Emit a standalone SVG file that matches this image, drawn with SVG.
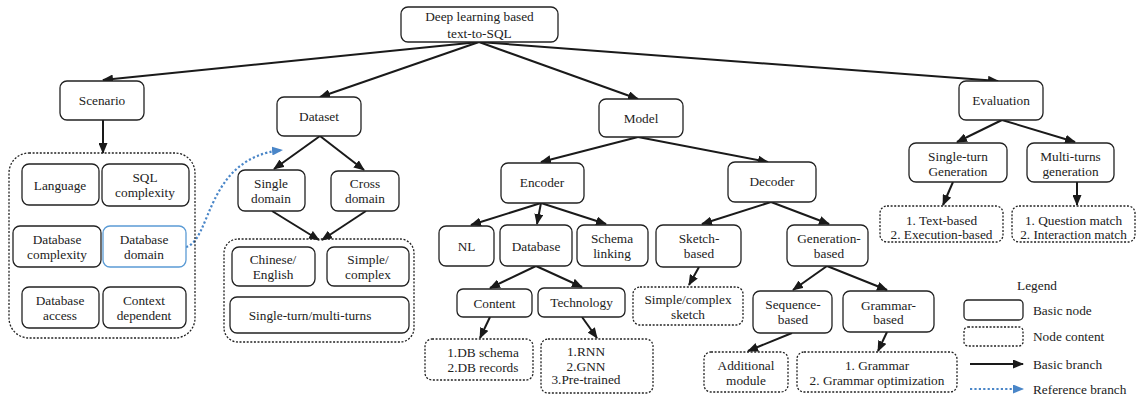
<svg xmlns="http://www.w3.org/2000/svg" width="1143" height="400" viewBox="0 0 1143 400" font-family="'Liberation Serif', 'Times New Roman', serif">
<style>
text{font-family:"Liberation Serif","Times New Roman","DejaVu Serif",serif;font-size:13.3px;fill:#222;text-anchor:middle}
.n{fill:#fff;stroke:#222;stroke-width:1.3}
.c{fill:none;stroke:#222;stroke-width:1.3;stroke-dasharray:2 1.6}
.b{fill:#fff;stroke:#5b9bd5;stroke-width:1.3}
.a{fill:none;stroke:#1a1a1a;stroke-width:2;marker-end:url(#ah)}
.r{fill:none;stroke:#4a86c8;stroke-width:2.2;stroke-dasharray:2.2 2.2;marker-end:url(#bh)}
.l{text-anchor:start}
</style>
<defs>
<marker id="ah" markerUnits="userSpaceOnUse" markerWidth="11" markerHeight="9" refX="10" refY="4.5" orient="auto"><path d="M0,0 L11,4.5 L0,9 z" fill="#1a1a1a"/></marker>
<marker id="bh" markerUnits="userSpaceOnUse" markerWidth="11" markerHeight="9" refX="10" refY="4.5" orient="auto"><path d="M0,0 L11,4.5 L0,9 z" fill="#4a86c8"/></marker>
</defs>
<rect width="1143" height="400" fill="#fff"/>

<g id="connectors">
<path class="a" d="M479,42 L103,80"/>
<path class="a" d="M479,42 L320,97"/>
<path class="a" d="M479,42 L638,99"/>
<path class="a" d="M479,42 L998,81"/>
<path class="a" d="M103,120 L103,153"/>
<path class="a" d="M320,136 L274,169"/>
<path class="a" d="M320,136 L364,170"/>
<path class="a" d="M272,211 L319,240"/>
<path class="a" d="M366,211 L322,240"/>
<path class="a" d="M638,137 L541,162"/>
<path class="a" d="M638,137 L768,162"/>
<path class="a" d="M541,203 L471,225"/>
<path class="a" d="M541,203 L537,224"/>
<path class="a" d="M541,203 L606,224"/>
<path class="a" d="M536,266 L490,288"/>
<path class="a" d="M536,266 L582,287"/>
<path class="a" d="M490,317 L480,338"/>
<path class="a" d="M582,317 L597,338"/>
<path class="a" d="M771,202 L702,224"/>
<path class="a" d="M771,202 L829,224"/>
<path class="a" d="M699,267 L689,285"/>
<path class="a" d="M827,266 L793,290"/>
<path class="a" d="M827,266 L887,290"/>
<path class="a" d="M792,333 L748,351"/>
<path class="a" d="M887,332 L878,351"/>
<path class="a" d="M1002,120 L957,142"/>
<path class="a" d="M1002,120 L1075,142"/>
<path class="a" d="M953,182 L943,205"/>
<path class="a" d="M1077,182 L1077,205"/>
<path class="r" d="M186,247 C212,240 205,158 282,150"/>
</g>

<g id="root"><rect class="n" x="401" y="7" width="157" height="35" rx="7"/><text x="479.5" y="20.5">Deep learning based</text><text x="479.5" y="37.5">text-to-SQL</text></g>
<g id="scenario"><rect class="n" x="60" y="81" width="84" height="39" rx="7"/><text x="102" y="104.5">Scenario</text></g>
<g id="dataset"><rect class="n" x="277" y="97" width="84" height="39" rx="7"/><text x="319" y="121">Dataset</text></g>
<g id="model"><rect class="n" x="599" y="99" width="84" height="38" rx="7"/><text x="641" y="123">Model</text></g>
<g id="evaluation"><rect class="n" x="959" y="81" width="84" height="39" rx="7"/><text x="1001" y="105">Evaluation</text></g>

<g id="scenario-content">
<rect class="c" x="9" y="153" width="186" height="185" rx="20"/>
<g id="language"><rect class="n" x="22" y="164" width="77" height="41" rx="7"/><text x="60" y="189.5">Language</text></g>
<g id="sql-complexity"><rect class="n" x="102" y="164" width="87" height="42" rx="7"/><text x="145" y="182">SQL</text><text x="145" y="197">complexity</text></g>
<g id="database-complexity"><rect class="n" x="13" y="226" width="88" height="41" rx="7"/><text x="57" y="243.5">Database</text><text x="57" y="258.5">complexity</text></g>
<g id="database-domain"><rect class="b" x="103" y="226" width="83" height="41" rx="7"/><text x="144" y="243.5">Database</text><text x="144" y="258.5">domain</text></g>
<g id="database-access"><rect class="n" x="22" y="287" width="77" height="41" rx="7"/><text x="60" y="304.5">Database</text><text x="60" y="319.5">access</text></g>
<g id="context-dependent"><rect class="n" x="103" y="287" width="83" height="41" rx="7"/><text x="144" y="304.5">Context</text><text x="144" y="319.5">dependent</text></g>
</g>

<g id="single-domain"><rect class="n" x="238" y="170" width="67" height="41" rx="7"/><text x="271" y="188">Single</text><text x="271" y="202.5">domain</text></g>
<g id="cross-domain"><rect class="n" x="331" y="171" width="68" height="40" rx="7"/><text x="365" y="188">Cross</text><text x="365" y="202.5">domain</text></g>

<g id="dataset-content">
<rect class="c" x="224" y="239" width="190" height="103" rx="14"/>
<g id="chinese-english"><rect class="n" x="232" y="247" width="83" height="39" rx="7"/><text x="273" y="263.5">Chinese/</text><text x="273" y="278.5">English</text></g>
<g id="simple-complex"><rect class="n" x="327" y="247" width="82" height="39" rx="7"/><text x="368" y="263.5">Simple/</text><text x="368" y="278.5">complex</text></g>
<g id="single-multi"><rect class="n" x="230" y="297" width="179" height="36" rx="7"/><text x="310" y="320">Single-turn/multi-turns</text></g>
</g>

<g id="encoder"><rect class="n" x="501" y="163" width="83" height="40" rx="7"/><text x="542" y="187">Encoder</text></g>
<g id="decoder"><rect class="n" x="728" y="162" width="88" height="40" rx="7"/><text x="772" y="186">Decoder</text></g>
<g id="nl"><rect class="n" x="439" y="226" width="55" height="40" rx="7"/><text x="466.5" y="251">NL</text></g>
<g id="database"><rect class="n" x="500" y="225" width="72" height="41" rx="7"/><text x="536" y="251">Database</text></g>
<g id="schema-linking"><rect class="n" x="577" y="225" width="71" height="41" rx="7"/><text x="612" y="243">Schema</text><text x="612" y="258">linking</text></g>
<g id="content"><rect class="n" x="457" y="289" width="75" height="28" rx="6"/><text x="494.5" y="307.5">Content</text></g>
<g id="technology"><rect class="n" x="538" y="288" width="87" height="29" rx="6"/><text x="581.5" y="307">Technology</text></g>
<g id="db-content"><rect class="c" x="425" y="339" width="108" height="41" rx="7"/><text x="483" y="357">1.DB schema</text><text x="483" y="372">2.DB records</text></g>
<g id="tech-content"><rect class="c" x="541" y="339" width="112" height="54" rx="7"/><text x="586" y="355.5">1.RNN</text><text x="586" y="370.5">2.GNN</text><text x="586" y="384">3.Pre-trained</text></g>

<g id="sketch-based"><rect class="n" x="656" y="225" width="85" height="42" rx="7"/><text x="699" y="243">Sketch-</text><text x="699" y="258">based</text></g>
<g id="generation-based"><rect class="n" x="787" y="225" width="81" height="41" rx="7"/><text x="829" y="243">Generation-</text><text x="829" y="258">based</text></g>
<g id="sketch-content"><rect class="c" x="633" y="287" width="110" height="38" rx="7"/><text x="688" y="304">Simple/complex</text><text x="688" y="318.5">sketch</text></g>
<g id="sequence-based"><rect class="n" x="753" y="291" width="79" height="42" rx="7"/><text x="793" y="309">Sequence-</text><text x="793" y="324">based</text></g>
<g id="grammar-based"><rect class="n" x="843" y="291" width="91" height="41" rx="7"/><text x="888.5" y="309.5">Grammar-</text><text x="888.5" y="324">based</text></g>
<g id="sequence-content"><rect class="c" x="704" y="352" width="84" height="40" rx="7"/><text x="746" y="370">Additional</text><text x="746" y="384.5">module</text></g>
<g id="grammar-content"><rect class="c" x="797" y="352" width="160" height="40" rx="7"/><text x="877" y="370">1. Grammar</text><text x="877" y="384.5">2. Grammar optimization</text></g>

<g id="single-turn"><rect class="n" x="909" y="143" width="98" height="39" rx="7"/><text x="958" y="160.5">Single-turn</text><text x="958" y="175.5">Generation</text></g>
<g id="multi-turns"><rect class="n" x="1027" y="143" width="87" height="39" rx="7"/><text x="1070.5" y="160.5">Multi-turns</text><text x="1070.5" y="175.5">generation</text></g>
<g id="single-content"><rect class="c" x="880" y="206" width="123" height="36" rx="7"/><text x="941.5" y="224.5">1. Text-based</text><text x="941.5" y="238.5">2. Execution-based</text></g>
<g id="multi-content"><rect class="c" x="1012" y="206" width="123" height="36" rx="7"/><text x="1073.5" y="224.5">1. Question match</text><text x="1073.5" y="238.5">2. Interaction match</text></g>

<g id="legend">
<text x="1037" y="289.5">Legend</text>
<rect class="n" x="964" y="300" width="59" height="20" rx="4"/><text class="l" x="1033" y="314.5">Basic node</text>
<rect class="c" x="964" y="327" width="59" height="19" rx="4"/><text class="l" x="1033" y="341">Node content</text>
<path class="a" d="M970,364 L1023,364"/><text class="l" x="1033" y="368.5">Basic branch</text>
<path class="r" d="M970,389 L1023,389"/><text class="l" x="1033" y="393.5">Reference branch</text>
</g>
</svg>
